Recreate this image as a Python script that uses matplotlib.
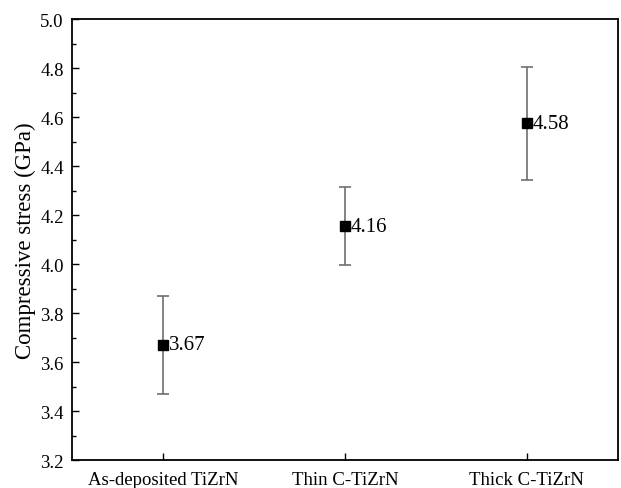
import matplotlib.pyplot as plt
import numpy as np
from matplotlib.ticker import MultipleLocator

plt.rcParams['font.family'] = ['Liberation Serif', 'DejaVu Serif']

samples = ['As-deposited TiZrN', 'Thin C-TiZrN', 'Thick C-TiZrN']
stress = [3.67, 4.155, 4.575]
err = [0.2, 0.16, 0.23]
labels = ['3.67', '4.16', '4.58']

fig = plt.figure(figsize=(6.21, 4.89), dpi=100)
ax = fig.add_axes([0.116, 0.057, 0.879, 0.902])

x = np.arange(len(samples))
ax.errorbar(x, stress, yerr=err, fmt='s', color='black', ms=7.5,
            ecolor='#6e6e6e', elinewidth=1.2, capsize=4, capthick=1.2, zorder=3)
for xi, yi, t in zip(x, stress, labels):
    ax.annotate(t, (xi, yi), xytext=(4, 0), textcoords='offset points',
                va='center', ha='left', fontsize=15)

ax.set_xlim(-0.5, 2.5)
ax.set_ylim(3.2, 5.0)
ax.set_xticks(x)
ax.set_xticklabels(samples)
ax.yaxis.set_major_locator(MultipleLocator(0.2))
ax.yaxis.set_minor_locator(MultipleLocator(0.1))
ax.yaxis.set_major_formatter(plt.FormatStrFormatter('%.1f'))
ax.tick_params(axis='both', which='both', direction='in', labelsize=13.5)
ax.tick_params(which='major', length=5, width=1, pad=6)
ax.tick_params(axis='x', pad=8)
ax.tick_params(which='minor', length=3, width=1)
ax.set_ylabel('Compressive stress (GPa)', fontsize=16.5, labelpad=3)
for s in ax.spines.values():
    s.set_linewidth(1.3)

fig.savefig('out.png', dpi=100)
